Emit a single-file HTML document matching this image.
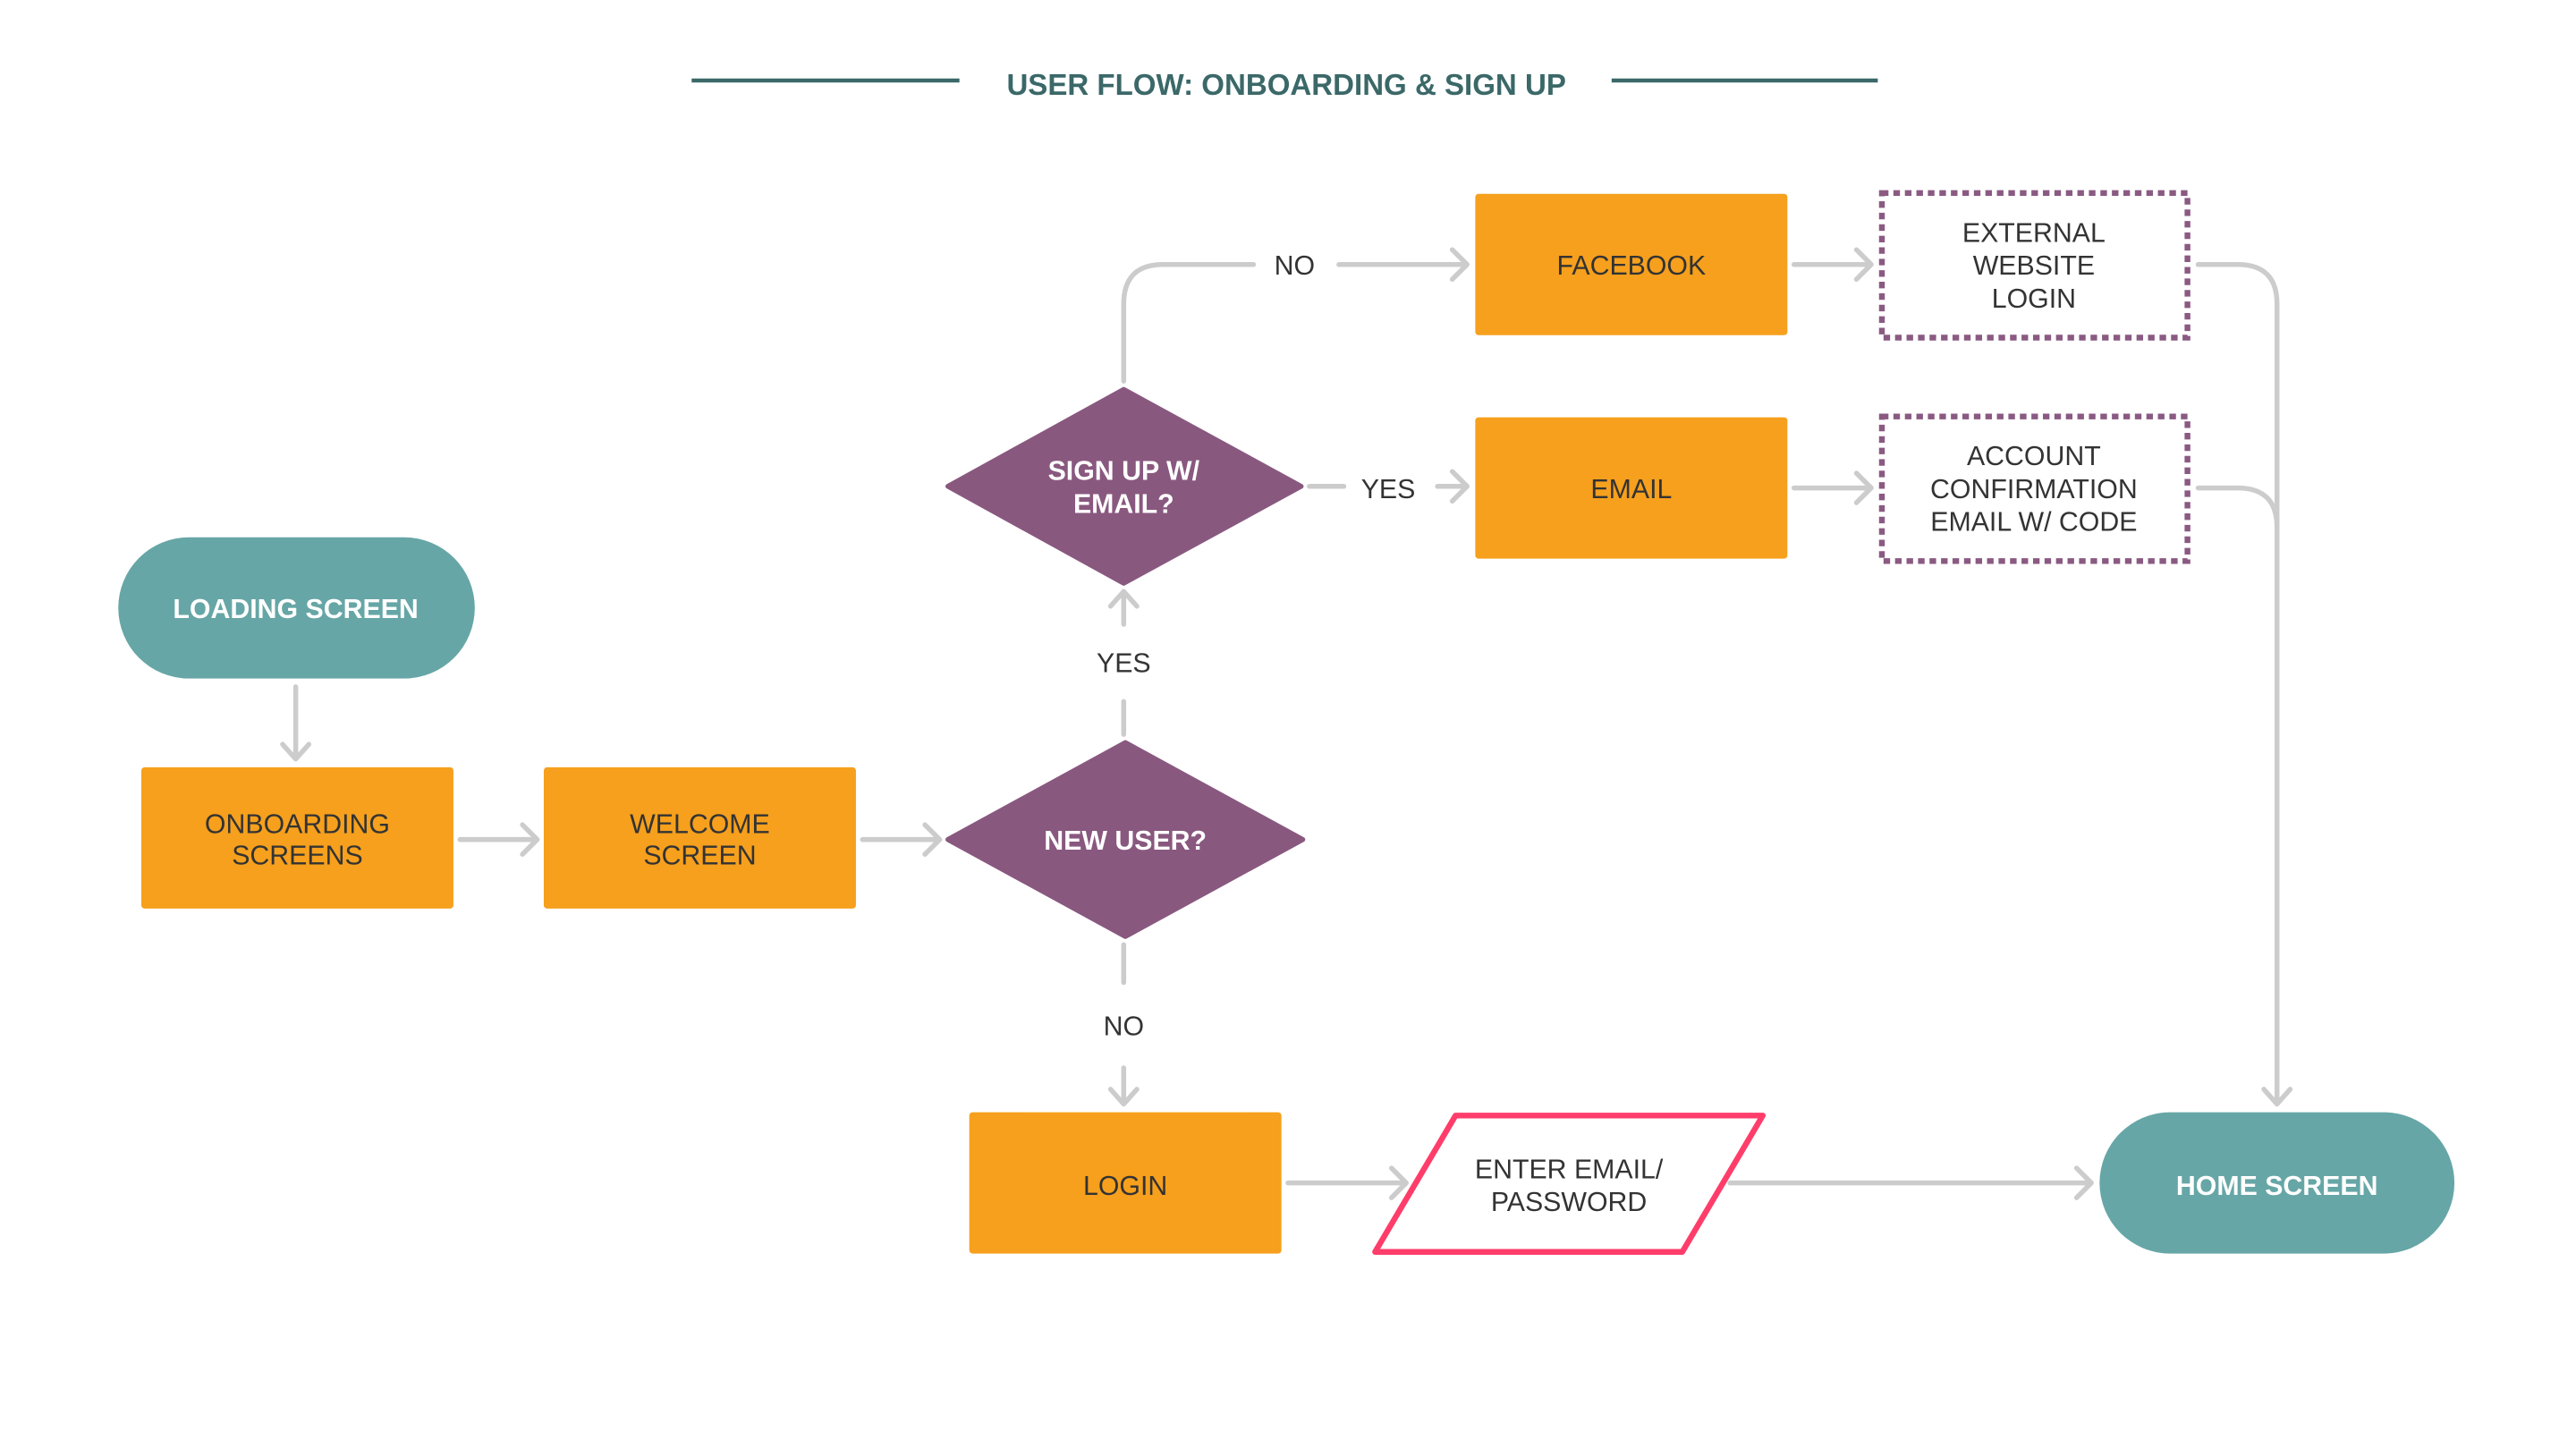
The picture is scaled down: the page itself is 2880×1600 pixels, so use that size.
<!DOCTYPE html>
<html><head><meta charset="utf-8"><style>
html,body{margin:0;padding:0;background:#fff;width:2880px;height:1600px;overflow:hidden}
svg{display:block}
text{font-family:"Liberation Sans",Arial,sans-serif;text-anchor:middle;dominant-baseline:central}
.n{font-size:16.5px;fill:#333}
.w{font-size:16.5px;fill:#fff;font-weight:bold}
.l{font-size:16.5px;fill:#333}
.c{stroke:#cccccc;stroke-width:3;fill:none;stroke-linecap:round;stroke-linejoin:round}
</style></head><body>
<svg width="2880" height="1600" viewBox="0 0 1568 871" preserveAspectRatio="none">
<line x1="421" y1="49" x2="584" y2="49" stroke="#3b6868" stroke-width="2.5"/>
<line x1="981" y1="49" x2="1143" y2="49" stroke="#3b6868" stroke-width="2.5"/>
<text x="783" y="52" style="font-size:18px;font-weight:bold;fill:#3b6868">USER FLOW: ONBOARDING &amp; SIGN UP</text>

<path class="c" d="M180 418 V462 M172 453 L180 462 L188 453"/>
<path class="c" d="M280 511 H327 M318 502 L327 511 L318 520"/>
<path class="c" d="M525 511 H572 M563 502 L572 511 L563 520"/>
<path class="c" d="M684 427 V447"/>
<path class="c" d="M684 380 V360 M676 369 L684 360 L692 369"/>
<path class="c" d="M684 575 V598"/>
<path class="c" d="M684 650 V672 M676 663 L684 672 L692 663"/>
<path class="c" d="M684 232 V185 Q684 161 708 161 H763"/>
<path class="c" d="M815 161 H893 M884 152 L893 161 L884 170"/>
<path class="c" d="M797 296 H818"/>
<path class="c" d="M875 296 H893 M884 287 L893 296 L884 305"/>
<path class="c" d="M1092 161 H1139 M1130 152 L1139 161 L1130 170"/>
<path class="c" d="M1092 297 H1139 M1130 288 L1139 297 L1130 306"/>
<path class="c" d="M1338 161 H1362 Q1386 161 1386 185 V672 M1378 663 L1386 672 L1394 663"/>
<path class="c" d="M1338 297 H1362 Q1386 297 1386 321"/>
<path class="c" d="M784 720 H856 M847 711 L856 720 L847 729"/>
<path class="c" d="M1053 720 H1273 M1264 711 L1273 720 L1264 729"/>

<rect x="72" y="327" width="217" height="86" rx="43" fill="#67a6a6"/>
<text class="w" x="180" y="371">LOADING SCREEN</text>
<rect x="86" y="467" width="190" height="86" rx="2" fill="#f6a01d"/>
<text class="n" x="181" y="502">ONBOARDING</text><text class="n" x="181" y="521">SCREENS</text>
<rect x="331" y="467" width="190" height="86" rx="2" fill="#f6a01d"/>
<text class="n" x="426" y="502">WELCOME</text><text class="n" x="426" y="521">SCREEN</text>
<path d="M685 452 L793 511 L685 570 L577 511 Z" fill="#89587f" stroke="#89587f" stroke-width="3" stroke-linejoin="round"/>
<text class="w" x="685" y="512">NEW USER?</text>
<path d="M684 237 L792 296 L684 355 L577 296 Z" fill="#89587f" stroke="#89587f" stroke-width="3" stroke-linejoin="round"/>
<text class="w" x="684" y="287">SIGN UP W/</text><text class="w" x="684" y="307">EMAIL?</text>
<rect x="898" y="118" width="190" height="86" rx="2" fill="#f6a01d"/>
<text class="n" x="993" y="162">FACEBOOK</text>
<rect x="898" y="254" width="190" height="86" rx="2" fill="#f6a01d"/>
<text class="n" x="993" y="298">EMAIL</text>
<rect x="1145.5" y="117.5" width="186" height="88" fill="none" stroke="#8a5a82" stroke-width="3.5" stroke-dasharray="4 3"/>
<text class="n" x="1238" y="142">EXTERNAL</text><text class="n" x="1238" y="162">WEBSITE</text><text class="n" x="1238" y="182">LOGIN</text>
<rect x="1145.5" y="253.5" width="186" height="88" fill="none" stroke="#8a5a82" stroke-width="3.5" stroke-dasharray="4 3"/>
<text class="n" x="1238" y="278">ACCOUNT</text><text class="n" x="1238" y="298">CONFIRMATION</text><text class="n" x="1238" y="318">EMAIL W/ CODE</text>
<rect x="590" y="677" width="190" height="86" rx="2" fill="#f6a01d"/>
<text class="n" x="685" y="722">LOGIN</text>
<path d="M886 679 L1073 679 L1024 762 L837 762 Z" fill="#fff" stroke="#ff3d6b" stroke-width="3.5" stroke-linejoin="round"/>
<text class="n" x="955" y="712">ENTER EMAIL/</text><text class="n" x="955" y="732">PASSWORD</text>
<rect x="1278" y="677" width="216" height="86" rx="43" fill="#67a6a6"/>
<text class="w" x="1386" y="722">HOME SCREEN</text>

<text class="l" x="788" y="162">NO</text>
<text class="l" x="845" y="298">YES</text>
<text class="l" x="684" y="404">YES</text>
<text class="l" x="684" y="625">NO</text>
</svg>
</body></html>
